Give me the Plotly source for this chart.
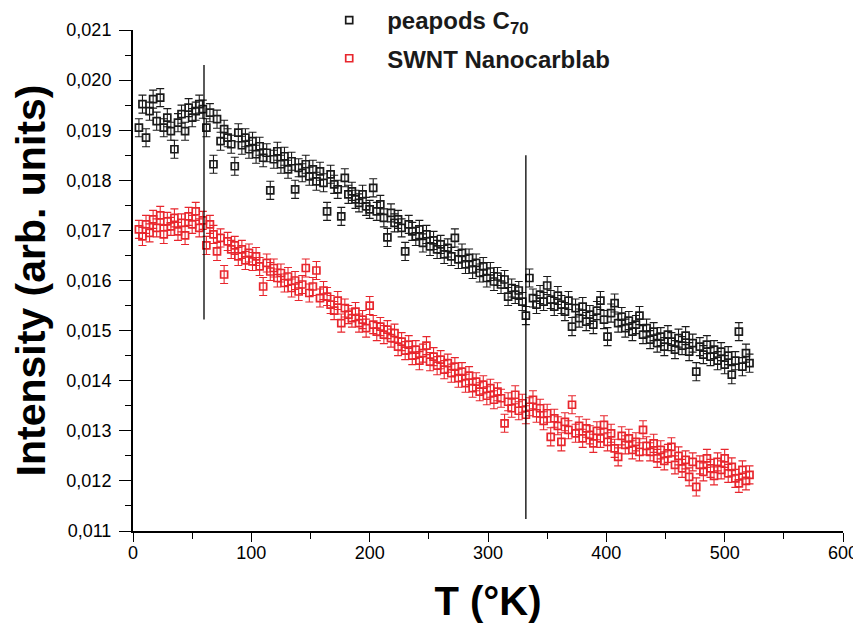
import plotly.graph_objects as go

# Temperatures (K)
T = [5, 8, 11, 14, 17, 20, 23, 26, 29, 32, 35, 38, 41, 44, 47, 50, 53, 56, 59,
     62, 65, 68, 71, 74, 77, 80, 83, 86, 89, 92, 95, 98,
     101, 104, 107, 110, 113, 116, 119, 122, 125, 128, 131, 134, 137, 140,
     143, 146, 149, 152, 155, 158, 161, 164, 167, 170, 173, 176, 179, 182,
     185, 188, 191, 194, 197, 200, 203, 206, 209, 212, 215, 218, 221, 224,
     227, 230, 233, 236, 239, 242, 245, 248, 251, 254, 257, 260, 263, 266,
     269, 272, 275, 278, 281, 284, 287, 290, 293, 296, 299, 302, 305, 308,
     311, 314, 317, 320, 323, 326, 329, 332, 335, 338, 341, 344, 347, 350,
     353, 356, 359, 362, 365, 368, 371, 374, 377, 380, 383, 386, 389, 392,
     395, 398, 401, 404, 407, 410, 413, 416, 419, 422, 425, 428, 431, 434,
     437, 440, 443, 446, 449, 452, 455, 458, 461, 464, 467, 470, 473, 476,
     479, 482, 485, 488, 491, 494, 497, 500, 503, 506, 509, 512, 515, 518, 521]

peapods = [0.01905, 0.01952, 0.01885, 0.01938, 0.01962, 0.01918, 0.01965, 0.01905, 0.01925, 0.01898,
           0.01862, 0.01915, 0.01932, 0.01898, 0.01945, 0.01925, 0.01938, 0.01952, 0.01942,
           0.01905, 0.01935, 0.01832, 0.01922, 0.01878, 0.01902, 0.01885, 0.01872, 0.01828, 0.01895,
           0.01870, 0.01885, 0.01862,
           0.01878, 0.01852, 0.01868, 0.01845, 0.01855, 0.01780, 0.01842, 0.01858, 0.01832, 0.01848,
           0.01822, 0.01838, 0.01782, 0.01825,
           0.01815, 0.01832, 0.01808, 0.01822, 0.01798, 0.01818, 0.01795, 0.01738, 0.01812, 0.01792,
           0.01782, 0.01728, 0.01805, 0.01772,
           0.01778, 0.01762, 0.01755, 0.01772, 0.01748, 0.01742, 0.01785, 0.01738, 0.01752, 0.01725,
           0.01686, 0.01735, 0.01715, 0.01722,
           0.01705, 0.01658, 0.01712, 0.01698, 0.01688, 0.01702, 0.01675, 0.01692, 0.01668, 0.01680,
           0.01662, 0.01672, 0.01652, 0.01665,
           0.01648, 0.01685, 0.01642, 0.01655, 0.01632, 0.01645, 0.01622, 0.01635, 0.01615, 0.01628,
           0.01605, 0.01618, 0.01598, 0.01608,
           0.01592, 0.01602, 0.01568, 0.01585, 0.01572, 0.01580, 0.01558, 0.01530, 0.01605, 0.01565,
           0.01552, 0.01572, 0.01558, 0.01590,
           0.01562, 0.01548, 0.01570, 0.01552, 0.01538, 0.01560, 0.01508, 0.01545, 0.01525, 0.01548,
           0.01518, 0.01532, 0.01512, 0.01540,
           0.01560, 0.01522, 0.01488, 0.01535, 0.01555, 0.01515, 0.01528, 0.01505, 0.01520, 0.01498,
           0.01512, 0.01530, 0.01492, 0.01505,
           0.01482, 0.01498, 0.01475, 0.01488, 0.01468, 0.01492, 0.01478, 0.01462, 0.01485, 0.01470,
           0.01490, 0.01458, 0.01475, 0.01418,
           0.01468, 0.01452, 0.01472, 0.01448, 0.01462, 0.01440, 0.01458, 0.01432, 0.01450, 0.01412,
           0.01440, 0.01498, 0.01428, 0.01455, 0.01435]

swnt = [0.01702, 0.01688, 0.01712, 0.01695, 0.01722, 0.01705, 0.01730, 0.01692, 0.01718, 0.01708,
        0.01725, 0.01698, 0.01715, 0.01690, 0.01728, 0.01712, 0.01738, 0.01705, 0.01720,
        0.01670, 0.01712, 0.01692, 0.01658, 0.01685, 0.01612, 0.01678, 0.01662, 0.01670, 0.01648,
        0.01662, 0.01640, 0.01655,
        0.01638, 0.01648, 0.01628, 0.01588, 0.01635, 0.01618, 0.01625, 0.01605, 0.01615, 0.01595,
        0.01608, 0.01585, 0.01600, 0.01578,
        0.01592, 0.01625, 0.01575, 0.01588, 0.01620, 0.01565, 0.01580, 0.01568, 0.01552, 0.01540,
        0.01560, 0.01515, 0.01545, 0.01532,
        0.01525, 0.01538, 0.01515, 0.01522, 0.01505, 0.01550, 0.01512, 0.01498, 0.01508, 0.01492,
        0.01502, 0.01485, 0.01495, 0.01468,
        0.01478, 0.01460, 0.01472, 0.01450, 0.01462, 0.01440, 0.01455, 0.01470, 0.01438, 0.01448,
        0.01430, 0.01442, 0.01422, 0.01435,
        0.01415, 0.01428, 0.01405, 0.01418, 0.01395, 0.01410, 0.01385, 0.01398, 0.01378, 0.01392,
        0.01370, 0.01385, 0.01362, 0.01378,
        0.01365, 0.01315, 0.01358, 0.01345, 0.01372, 0.01340, 0.01355, 0.01332, 0.01348, 0.01362,
        0.01335, 0.01345, 0.01320, 0.01335,
        0.01288, 0.01325, 0.01310, 0.01278, 0.01318, 0.01302, 0.01352, 0.01295, 0.01310, 0.01285,
        0.01305, 0.01292, 0.01275, 0.01300,
        0.01285, 0.01312, 0.01278, 0.01295, 0.01265, 0.01248, 0.01290, 0.01272, 0.01285, 0.01262,
        0.01278, 0.01258, 0.01302, 0.01270,
        0.01258, 0.01275, 0.01245, 0.01262, 0.01240, 0.01255, 0.01268, 0.01232, 0.01250, 0.01225,
        0.01242, 0.01208, 0.01238, 0.01188,
        0.01232, 0.01218, 0.01245, 0.01225, 0.01210, 0.01238, 0.01222, 0.01245, 0.01215, 0.01228,
        0.01205, 0.01195, 0.01222, 0.01200, 0.01212]

ERR = 0.00018  # error bar half-height

# vertical reference lines
VLINE_T = [60, 332]
VLINE_Y0 = [0.01522, 0.01124]
VLINE_Y1 = [0.02030, 0.01850]

X_TICKS = [0, 100, 200, 300, 400, 500, 600]
Y_TICKS = [0.011, 0.012, 0.013, 0.014, 0.015, 0.016, 0.017, 0.018, 0.019, 0.020, 0.021]

BLACK = "#1a1a1a"
RED = "#e8262d"
FONT = "Liberation Sans"

fig = go.Figure()

fig.add_trace(go.Scatter(
    x=T, y=peapods, mode="markers", name="<b>peapods C<sub>70</sub></b>",
    legendgroup="a",
    marker=dict(symbol="square-open", size=7, color=BLACK, line=dict(width=1.7, color=BLACK)),
    error_y=dict(type="constant", value=ERR, color=BLACK, thickness=1.1, width=4),
))
fig.add_trace(go.Scatter(
    x=T, y=swnt, mode="markers", name="<b>SWNT Nanocarblab</b>",
    legendgroup="b",
    marker=dict(symbol="square-open", size=7, color=RED, line=dict(width=1.7, color=RED)),
    error_y=dict(type="constant", value=ERR, color=RED, thickness=1.1, width=4),
))

for t, y0, y1 in zip(VLINE_T, VLINE_Y0, VLINE_Y1):
    fig.add_shape(type="line", xref="x", yref="y", x0=t, x1=t, y0=y0, y1=y1,
                  line=dict(color="black", width=1.3))

fig.update_layout(
    width=853, height=618,
    margin=dict(l=125, r=18, t=22, b=95, autoexpand=False),
    paper_bgcolor="white", plot_bgcolor="white",
    separators=",.",
    font=dict(family=FONT, color="black"),
    showlegend=True,
    legend=dict(x=0.251, y=1.064, xanchor="left", yanchor="top",
                bgcolor="rgba(0,0,0,0)", font=dict(family=FONT, size=24, color="#1a1a1a"),
                tracegroupgap=4, traceorder="grouped", itemwidth=66),
    xaxis=dict(range=[0, 600], tickvals=X_TICKS, ticks="outside", ticklen=9, tickwidth=1.3,
               tickcolor="black", showline=True, linecolor="black", linewidth=2,
               showgrid=False, zeroline=False, tickfont=dict(size=18, family=FONT),
               automargin=True, ticklabelstandoff=-5,
               minor=dict(dtick=50, ticks="outside", ticklen=6, tickwidth=1.3, tickcolor="black", showgrid=False),
               title=dict(text="<b>T (°K)</b>", font=dict(size=40, family=FONT), standoff=25)),
    yaxis=dict(range=[0.011, 0.021], tickvals=Y_TICKS, tickformat=".3f", ticks="outside",
               ticklen=12, tickwidth=1.3, tickcolor="black", showline=True, linecolor="black",
               linewidth=2, showgrid=False, zeroline=False, tickfont=dict(size=18, family=FONT),
               automargin=True, ticklabelstandoff=4,
               minor=dict(dtick=0.0005, ticks="outside", ticklen=6, tickwidth=1.3, tickcolor="black", showgrid=False),
               title=dict(text="<b>Intensity (arb. units)</b>", font=dict(size=41, family=FONT), standoff=22)),
)

fig.write_html("out.html")
